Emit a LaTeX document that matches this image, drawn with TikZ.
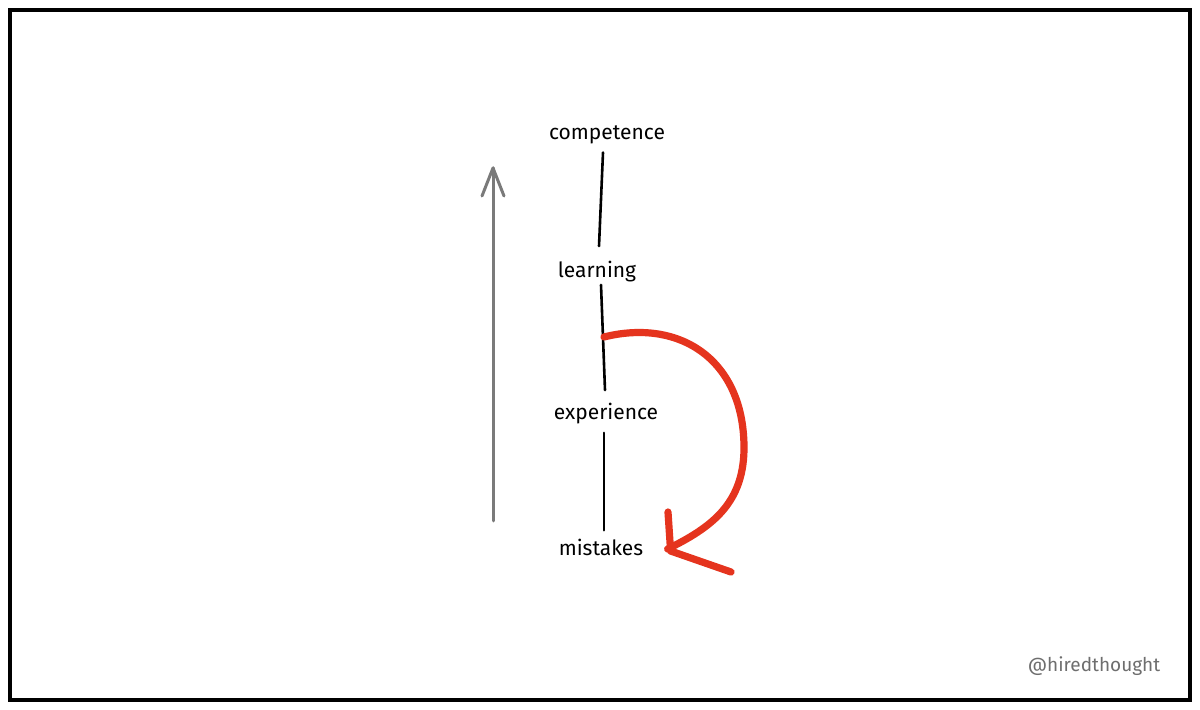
\documentclass[tikz,border=0pt]{standalone}
\usepackage{fontspec}
\setmainfont{Fira Sans}
\usetikzlibrary{calc}
\definecolor{redpen}{HTML}{E5341E}
\definecolor{graypen}{HTML}{7A7A7A}
\definecolor{signgray}{HTML}{6E6E6E}
\begin{document}
\begin{tikzpicture}[x=0.5pt,y=-0.5pt,
  word/.style={font=\fontsize{10.5}{12}\selectfont, inner sep=1pt, text=black},
  link/.style={line width=1.3pt, black, line cap=round},
  up/.style={line width=1.5pt, graypen, line cap=round, line join=round},
  loop/.style={line width=3.6pt, redpen, line cap=round, line join=round},
  frame/.style={line width=1.6pt, black}]
\useasboundingbox (0,0) rectangle (1200,710);
\fill[white] (0,0) rectangle (1200,710);
\draw[frame] (10,10) rectangle (1190,700);

\node[word] (competence) at (607,135) {competence};
\node[word] (learning) at (597,272) {learning};
\node[word] (experience) at (606,414) {experience};
\node[word] (mistakes) at (601,547) {mistakes};
\node[font=\fontsize{9.5}{11}\selectfont, text=signgray, inner sep=1pt] (sign) at (1094,666) {@hiredthought};

\draw[link] ([shift={(-4,6)}]competence.south) -- ([shift={(2,-13)}]learning.north);
\draw[link] ([shift={(4,0)}]learning.south) -- ([shift={(-1,-11)}]experience.north);
\draw[link] ([shift={(-2,6)}]experience.south) -- ([shift={(3,-6)}]mistakes.north);

% gray upward arrow
\coordinate (gbot) at (493,521);
\coordinate (gtop) at (493,168);
\draw[up] (gbot) -- (gtop);
\draw[up] ($(gtop)+(-11,28)$) -- (gtop) -- ($(gtop)+(11,28)$);

% red loop back to mistakes
\coordinate (rstart) at (604,337);
\draw[loop] (rstart) .. controls (680,318) and (745,360) .. (744,450)
  .. controls (743,505) and (710,528) .. ([shift={(22,2)}]mistakes.east);
\draw[loop] (668,512) -- ([shift={(25,4)}]mistakes.east) -- (731,572);
\end{tikzpicture}
\end{document}
